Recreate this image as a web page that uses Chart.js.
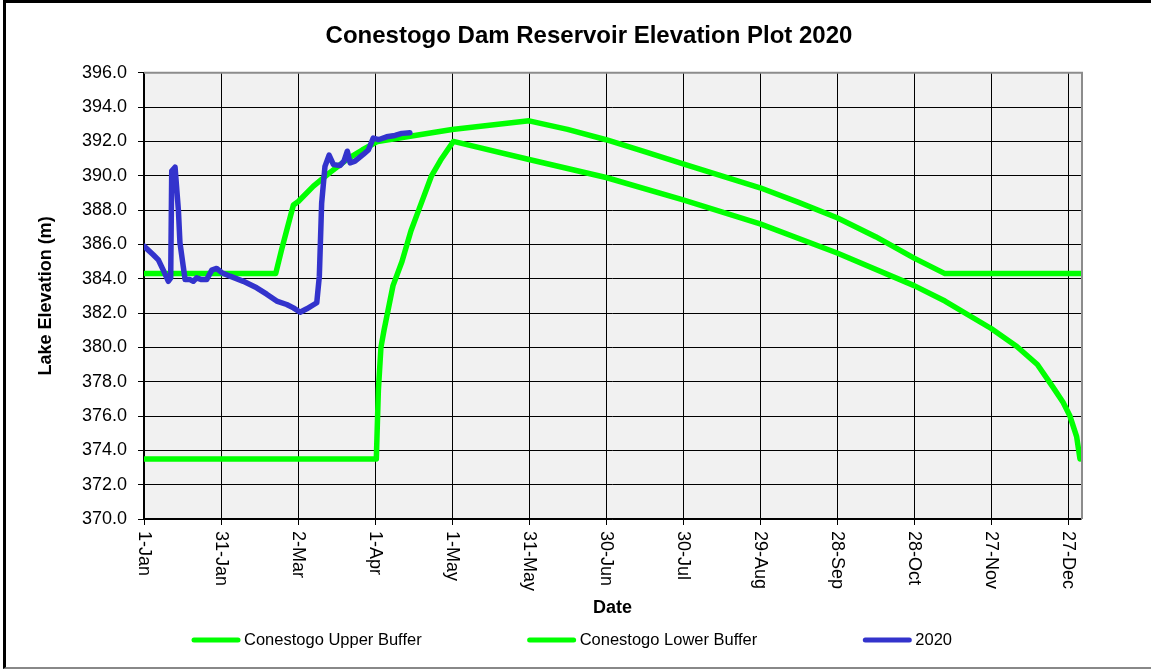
<!DOCTYPE html>
<html>
<head>
<meta charset="utf-8">
<title>Conestogo Dam Reservoir Elevation Plot 2020</title>
<script src="https://cdn.jsdelivr.net/npm/chart.js@4.4.1/dist/chart.umd.min.js"></script>
<style>
body { margin: 0; background: #fff; }
#frame { position: absolute; left: 3px; top: 0; width: 1150px; height: 664px;
         border-top: 3px solid #000; border-left: 3px solid #000; border-bottom: 2px solid #888; }
#myChart { position: absolute; left: 0; top: 0; }
</style>
</head>
<body>
<div id="frame"></div>
<canvas id="myChart" width="1151" height="669"></canvas>
<script>
// x values are days after 1-Jan (365 day year, as on the sheet)
var dateTicks = ['1-Jan','31-Jan','2-Mar','1-Apr','1-May','31-May','30-Jun','30-Jul','29-Aug','28-Sep','28-Oct','27-Nov','27-Dec'];

var upperDay   = [0, 51.3, 53.6, 58.2, 60.1, 66, 72.5, 79, 85, 91, 120, 150, 165, 180, 195, 210, 225, 240, 255, 270, 285, 300, 306, 312, 365];
var upperLevel = [384.3, 384.3, 385.7, 388.3, 388.5, 389.4, 390.2, 390.95, 391.5, 392.0, 392.7, 393.2, 392.7, 392.1, 391.4, 390.7, 390.0, 389.3, 388.45, 387.55, 386.45, 385.2, 384.75, 384.3, 384.3];

var lowerDay   = [0, 90.5, 91.3, 92.3, 93.5, 97, 100.5, 104, 107, 112, 115.5, 120.5, 150, 180, 210, 240, 270, 300, 312, 330, 340, 348, 354, 358, 360.7, 363.3, 364.6];
var lowerLevel = [373.5, 373.5, 377.5, 380.0, 381.0, 383.6, 385.0, 386.8, 388.0, 390.0, 390.9, 392.0, 390.95, 389.9, 388.6, 387.2, 385.5, 383.6, 382.7, 381.1, 380.05, 379.0, 377.7, 376.8, 376.0, 374.8, 373.5];

var obsDay   = [0, 3.6, 5.6, 7.5, 9.5, 10.4, 10.8, 12.1, 13.4, 14.0, 15.3, 16, 17.9, 19.2, 20.5, 22.4, 24.4, 26.4, 28.3, 30.3, 33.5, 38.7, 43.9, 47.8, 51.7, 55.6, 58.2, 60.8, 63.4, 67.3, 68.3, 69.2, 70.5, 72.1, 73.8, 76.4, 77.9, 79.2, 80.3, 82.2, 85.4, 87.4, 89.3, 91.3, 94.5, 97.8, 100.4, 103.6];
var obsLevel = [385.9, 385.4, 385.1, 384.5, 383.85, 384.05, 390.27, 390.5, 388.0, 386.1, 384.7, 383.95, 383.95, 383.85, 384.05, 383.95, 383.95, 384.5, 384.6, 384.35, 384.15, 383.85, 383.47, 383.1, 382.7, 382.5, 382.3, 382.05, 382.25, 382.6, 384.15, 388.4, 390.55, 391.2, 390.65, 390.6, 390.85, 391.43, 390.75, 390.85, 391.24, 391.5, 392.2, 392.1, 392.27, 392.35, 392.47, 392.5];

var FONT = '"Liberation Sans", Arial, sans-serif';
Chart.defaults.font.family = FONT;
Chart.defaults.color = '#000';

function pairs(xs, ys)
{
    var out = [];
    for (var i = 0; i < xs.length; i++) {
        out.push({x: xs[i], y: ys[i]});
    }
    return out;
}

// plot background, gray frame, downward date labels and the legend
var plotDecor = {
    id: 'plotDecor',
    beforeDraw: function(chart) {
        var a = chart.chartArea, ctx = chart.ctx;
        ctx.save();
        ctx.fillStyle = '#f1f1f1';
        ctx.fillRect(a.left, a.top, a.right - a.left, a.bottom - a.top);
        ctx.restore();
    },
    beforeDatasetsDraw: function(chart) {
        var a = chart.chartArea, ctx = chart.ctx;
        ctx.save();
        ctx.strokeStyle = '#8c8c8c';
        ctx.lineWidth = 2;
        ctx.beginPath();
        ctx.moveTo(a.left, a.top);
        ctx.lineTo(a.right + 1, a.top);
        ctx.lineTo(a.right + 1, a.bottom);
        ctx.stroke();
        ctx.restore();
    },
    afterDraw: function(chart) {
        var ctx = chart.ctx;
        var xs = chart.scales.x;
        ctx.save();
        ctx.fillStyle = '#000';
        ctx.font = '18px ' + FONT;
        ctx.textAlign = 'left';
        ctx.textBaseline = 'middle';
        xs.ticks.forEach(function(t, i) {
            var px = xs.getPixelForValue(t.value);
            ctx.save();
            ctx.translate(px, chart.chartArea.bottom + 12);
            ctx.rotate(Math.PI / 2);
            ctx.fillText(dateTicks[i], 0, 0);
            ctx.restore();
        });

        // legend
        var sets = chart.data.datasets;
        var lineLen = 48, textGap = 4, itemGap = 106, ly = 640;
        ctx.font = '16.5px ' + FONT;
        var total = itemGap * (sets.length - 1);
        sets.forEach(function(ds) { total += lineLen + textGap + ctx.measureText(ds.label).width; });
        var x = 572 - total / 2;
        sets.forEach(function(ds) {
            ctx.strokeStyle = ds.borderColor;
            ctx.lineWidth = 5;
            ctx.lineCap = 'round';
            ctx.beginPath();
            ctx.moveTo(x + 2, ly);
            ctx.lineTo(x + lineLen - 2, ly);
            ctx.stroke();
            x += lineLen + textGap;
            ctx.fillText(ds.label, x, ly);
            x += ctx.measureText(ds.label).width + itemGap;
        });
        ctx.restore();
    }
};

var chartData = {
    datasets: [
        {
            label: 'Conestogo Upper Buffer',
            data: pairs(upperDay, upperLevel),
            borderColor: '#00ff00',
            borderWidth: 5.5,
            order: 1
        },
        {
            label: 'Conestogo Lower Buffer',
            data: pairs(lowerDay, lowerLevel),
            borderColor: '#00ff00',
            borderWidth: 5.5,
            order: 1
        },
        {
            label: '2020',
            data: pairs(obsDay, obsLevel),
            borderColor: '#3333cc',
            borderWidth: 5.5,
            order: 0
        }
    ]
};

var lineChart = new Chart(document.getElementById('myChart'), {
    type: 'line',
    data: chartData,
    plugins: [plotDecor],
    options: {
        responsive: false,
        animation: false,
        layout: { padding: { left: 27, right: 0, top: 4, bottom: 40 } },
        elements: {
            point: { radius: 0, hoverRadius: 0 },
            line: { tension: 0, borderCapStyle: 'round', borderJoinStyle: 'round', fill: false }
        },
        plugins: {
            legend: { display: false },
            tooltip: { enabled: false },
            title: {
                display: true,
                text: 'Conestogo Dam Reservoir Elevation Plot 2020',
                color: '#000',
                font: { size: 24, weight: 'bold' },
                padding: { top: 18, bottom: 22 }
            }
        },
        scales: {
            x: {
                type: 'linear',
                min: 0,
                max: 365,
                afterFit: function(s) { s.height = 110; },
                ticks: { stepSize: 30, includeBounds: false, display: false },
                grid: { color: '#000', lineWidth: 1, tickLength: 6, tickColor: '#000' },
                border: { color: '#000', width: 1.5 },
                title: {
                    display: true,
                    text: 'Date',
                    font: { size: 18, weight: 'bold' },
                    padding: { top: 0, bottom: 10 }
                }
            },
            y: {
                min: 370,
                max: 396,
                afterFit: function(s) { s.width = 117; },
                ticks: {
                    stepSize: 2,
                    padding: 11,
                    font: { size: 18 },
                    callback: function(v) { return v.toFixed(1); }
                },
                grid: { color: '#000', lineWidth: 1, tickLength: 6, tickColor: '#000' },
                border: { color: '#000', width: 1.5 },
                title: {
                    display: true,
                    text: 'Lake Elevation (m)',
                    font: { size: 18, weight: 'bold' },
                    padding: { top: 8, bottom: 0 }
                }
            },
            // empty right margin so the plot stops where the sheet's plot stops
            yRight: {
                position: 'right',
                display: true,
                afterFit: function(s) { s.width = 70; },
                ticks: { display: false },
                grid: { display: false, drawTicks: false },
                border: { display: false }
            }
        }
    }
});
</script>
</body>
</html>
